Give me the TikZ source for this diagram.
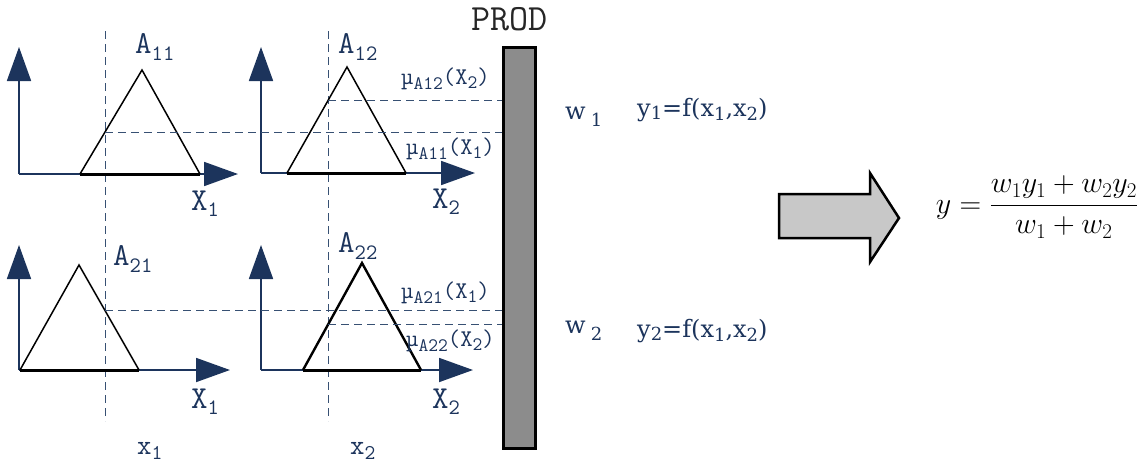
\RequirePackage{fix-cm}
\documentclass[tikz,border=0pt]{standalone}
\usepackage{fontspec}
\setmainfont{Liberation Serif}
\newfontfamily\serf{DejaVu Serif}
\usetikzlibrary{arrows.meta}
\definecolor{navy}{RGB}{28,52,92}
\definecolor{dashc}{RGB}{55,80,115}
\definecolor{prodgray}{RGB}{140,140,140}
\definecolor{arrowgray}{RGB}{200,200,200}
\newcommand\dn[3]{\raisebox{-#1pt}{\fontsize{#2}{#2}\selectfont #3}}
\begin{document}
\begin{tikzpicture}[x=1pt,y=-1pt,
  axis/.style={navy, line width=1.8pt, -{Triangle[length=34pt,width=24pt]}},
  tri/.style={black, line width=1.5pt, line join=miter},
  base/.style={black, line width=3pt},
  guide/.style={dashc, line width=1pt, dash pattern=on 8pt off 5pt},
  lab/.style={navy, inner sep=0pt, anchor=base west, font=\ttfamily\fontsize{24}{24}\selectfont},
  biglab/.style={navy, inner sep=0pt, anchor=base west, font=\ttfamily\fontsize{32}{32}\selectfont},
  txt/.style={navy, inner sep=0pt, anchor=base west, font=\serf\fontsize{24}{24}\selectfont}]
\useasboundingbox (0,0) rectangle (1146,464);

% PROD box
\node[draw=black, line width=3pt, fill=prodgray, minimum width=32pt, minimum height=401pt, inner sep=0pt] (prod) at (519,247.5) {};
\node[black!85, inner sep=0pt, anchor=base west, font=\ttfamily\fontsize{37}{37}\selectfont] (prodlab) at (471,30) {PROD};

% vertical guides
\coordinate (v1t) at (105,31); \coordinate (v1b) at (105,421);
\coordinate (v2t) at (328,31); \coordinate (v2b) at (328,421);
\draw[guide] (v1t) -- (v1b);
\draw[guide] (v2t) -- (v2b);

% panel 1
\coordinate (o1) at (19,174); \coordinate (ya1) at (19,47); \coordinate (xa1) at (238,174);
\draw[axis] (o1) -- (ya1); \draw[axis] (o1) -- (xa1);
\coordinate (t1a) at (80,174); \coordinate (t1p) at (142,70); \coordinate (t1b) at (200,174);
\draw[tri] (t1a) -- (t1p) -- (t1b);
\draw[base] (t1a) -- (t1b);
\path (t1a) -- (t1p) coordinate[pos=0.4032] (m11);

% panel 2
\coordinate (o2) at (261,173); \coordinate (ya2) at (261,47); \coordinate (xa2) at (475,173);
\draw[axis] (o2) -- (ya2); \draw[axis] (o2) -- (xa2);
\coordinate (t2a) at (287,173); \coordinate (t2p) at (347,67); \coordinate (t2b) at (406,173);
\draw[tri] (t2a) -- (t2p) -- (t2b);
\draw[base] (t2a) -- (t2b);
\path (t2a) -- (t2p) coordinate[pos=0.6833] (m12);

% panel 3
\coordinate (o3) at (19,370); \coordinate (ya3) at (19,245); \coordinate (xa3) at (230,370);
\draw[axis] (o3) -- (ya3); \draw[axis] (o3) -- (xa3);
\coordinate (t3a) at (20,370); \coordinate (t3p) at (79,265); \coordinate (t3b) at (139,370);
\draw[tri] (t3a) -- (t3p) -- (t3b);
\draw[base] (t3a) -- (t3b);
\path (t3p) -- (t3b) coordinate[pos=0.4333] (m21);

% panel 4
\coordinate (o4) at (261,370); \coordinate (ya4) at (261,245); \coordinate (xa4) at (473,370);
\draw[axis] (o4) -- (ya4); \draw[axis] (o4) -- (xa4);
\coordinate (t4a) at (303,370); \coordinate (t4p) at (362,263); \coordinate (t4b) at (421,370);
\draw[tri, line width=2.4pt] (t4a) -- (t4p) -- (t4b);
\draw[base] (t4a) -- (t4b);
\path (t4a) -- (t4p) coordinate[pos=0.4237] (m22);

% horizontal guides
\draw[guide] (m11) -- (m11 -| prod.west);
\draw[guide] (m12) -- (m12 -| prod.west);
\draw[guide] (m21) -- (m21 -| prod.west);
\draw[guide] (m22) -- (m22 -| prod.west);

% labels
\node[biglab] (A11) at (135,53) {A\dn{7}{22}{11}};
\node[biglab] (A12) at (338,53) {A\dn{7}{22}{12}};
\node[biglab] (A21) at (113,265) {A\dn{7}{22}{21}};
\node[biglab] (A22) at (338,252) {A\dn{7}{22}{22}};
\node[biglab] (X1a) at (191,210) {X\dn{6}{22}{1}};
\node[biglab] (X2a) at (432,208) {X\dn{6}{22}{2}};
\node[biglab] (X1b) at (191,408) {X\dn{6}{22}{1}};
\node[biglab] (X2b) at (432,408) {X\dn{6}{22}{2}};
\node[lab] (mu12) at (401,84) {µ\dn{5}{19}{A12}(X\dn{4}{19}{2})};
\node[lab] (mu11) at (406,154) {µ\dn{5}{19}{A11}(X\dn{4}{19}{1})};
\node[lab] (mu21) at (401,298) {µ\dn{5}{19}{A21}(X\dn{4}{19}{1})};
\node[lab] (mu22) at (406,346) {µ\dn{5}{19}{A22}(X\dn{4}{19}{2})};
\node[lab, font=\ttfamily\fontsize{28}{28}\selectfont] (x1) at (137,454) {x\dn{5}{21}{1}};
\node[lab, font=\ttfamily\fontsize{28}{28}\selectfont] (x2) at (350,454) {x\dn{5}{21}{2}};

% rule outputs
\node[txt] (w1) at (565,119) {w\hspace{5pt}\dn{7}{18}{1}};
\node[txt] (f1) at (637,116) {y\dn{3}{18}{1}=f(x\dn{4}{18}{1},x\dn{4}{18}{2})};
\node[txt] (w2) at (565,333) {w\hspace{5pt}\dn{7}{18}{2}};
\node[txt] (f2) at (637,337) {y\dn{3}{18}{2}=f(x\dn{4}{18}{1},x\dn{4}{18}{2})};

% big arrow
\draw[black, line width=2.5pt, fill=arrowgray, line join=miter]
  (779,194) -- (870,194) -- (870,173) -- (899,218) -- (870,262) -- (870,238) -- (779,238) -- cycle;

% formula
\node[inner sep=0pt, font=\fontsize{30}{36}\selectfont] (eq) at (1037,207)
  {$y=\displaystyle\frac{w_1y_1+w_2y_2}{w_1+w_2}$};
\end{tikzpicture}
\end{document}
